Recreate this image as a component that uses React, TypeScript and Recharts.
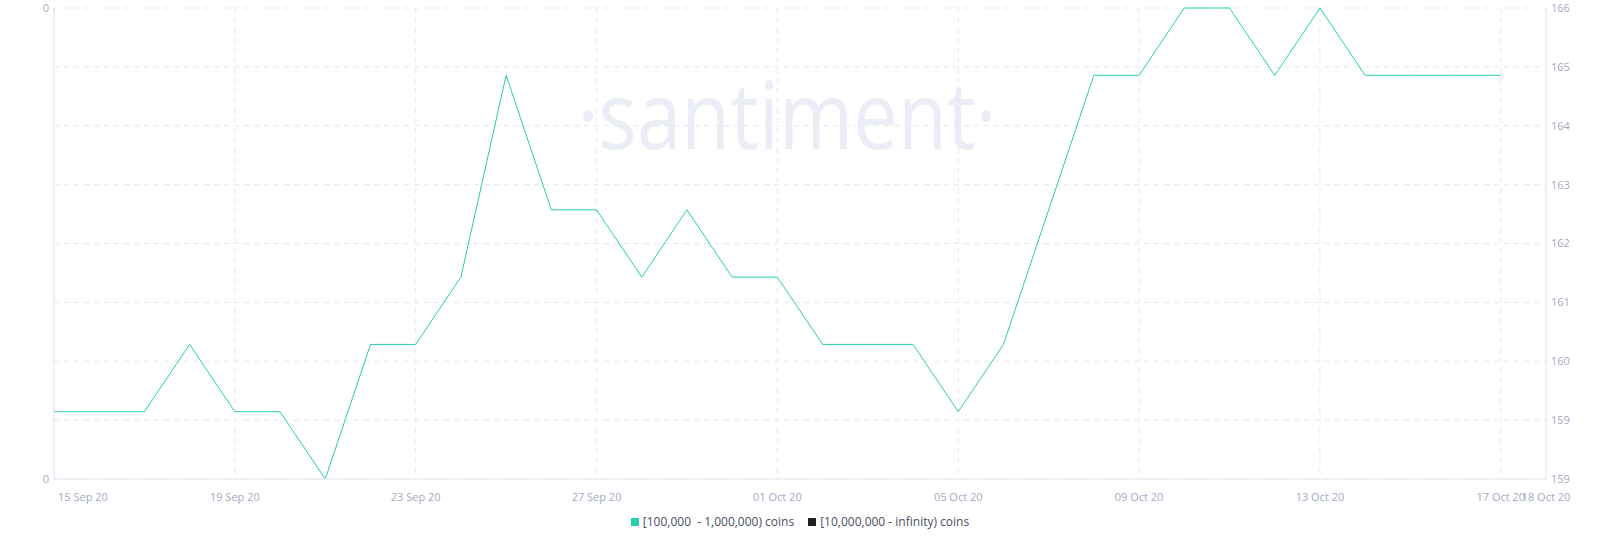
import { LineChart, Line, XAxis, YAxis, CartesianGrid, Legend } from 'recharts';

// one point per day, 15 Sep 2020 .. 17 Oct 2020
const dates = [
  '2020-09-15', '2020-09-16', '2020-09-17', '2020-09-18', '2020-09-19', '2020-09-20',
  '2020-09-21', '2020-09-22', '2020-09-23', '2020-09-24', '2020-09-25', '2020-09-26',
  '2020-09-27', '2020-09-28', '2020-09-29', '2020-09-30', '2020-10-01', '2020-10-02',
  '2020-10-03', '2020-10-04', '2020-10-05', '2020-10-06', '2020-10-07', '2020-10-08',
  '2020-10-09', '2020-10-10', '2020-10-11', '2020-10-12', '2020-10-13', '2020-10-14',
  '2020-10-15', '2020-10-16', '2020-10-17',
];

// holders with [100,000 - 1,000,000) coins
const midHolders = [
  160, 160, 160, 161, 160, 160,
  159, 161, 161, 162, 165, 163,
  163, 162, 163, 162, 162, 161,
  161, 161, 160, 161, 163, 165,
  165, 166, 166, 165, 166, 165,
  165, 165, 165,
];

const xTickDates = [
  '2020-09-15', '2020-09-19', '2020-09-23', '2020-09-27', '2020-10-01',
  '2020-10-05', '2020-10-09', '2020-10-13', '2020-10-17', '2020-10-18',
];

// right axis ticks, labels are floored
const rightTicks = [159, 159.875, 160.75, 161.625, 162.5, 163.375, 164.25, 165.125, 166];

const MONTHS = ['Jan', 'Feb', 'Mar', 'Apr', 'May', 'Jun', 'Jul', 'Aug', 'Sep', 'Oct', 'Nov', 'Dec'];
const ts = (d: string) => Date.parse(d + 'T00:00:00Z');
const fmtDate = (t: number) => {
  const d = new Date(t);
  return `${String(d.getUTCDate()).padStart(2, '0')} ${MONTHS[d.getUTCMonth()]} ${String(d.getUTCFullYear()).slice(2)}`;
};

const data = dates.map((d, i) => ({ t: ts(d), mid: midHolders[i] }));
const xTicks = xTickDates.map(ts);

const GREEN = '#26cfae';
const AXIS = '#e5e7f1';
const TICK = '#a2aac4';
const FONT = "'Open Sans', sans-serif";

const XTick = (props: any) => {
  const { x, y, payload, index } = props;
  const first = index === 0;
  return (
    <text
      x={first ? x + 4 : x}
      y={y + 14}
      textAnchor={first ? 'start' : 'middle'}
      fill={TICK}
      fontSize={11}
      fontFamily={FONT}
    >
      {fmtDate(payload.value)}
    </text>
  );
};

const LegendContent = () => (
  <div
    style={{
      height: 33,
      display: 'flex',
      justifyContent: 'center',
      alignItems: 'flex-start',
      paddingTop: 5,
      boxSizing: 'border-box',
      fontFamily: FONT,
      fontSize: 12,
      color: '#4a4f63',
      gap: 14,
    }}
  >
    {[
      { label: '[100,000  - 1,000,000) coins', color: GREEN },
      { label: '[10,000,000 - infinity) coins', color: '#222222' },
    ].map((it) => (
      <div key={it.label} style={{ display: 'flex', alignItems: 'center', lineHeight: '16px' }}>
        <span style={{ width: 8, height: 8, background: it.color, marginRight: 4, display: 'inline-block' }} />
        <span style={{ whiteSpace: 'pre' }}>{it.label}</span>
      </div>
    ))}
  </div>
);

export default function App() {
  return (
    <div style={{ position: 'absolute', left: 0, top: 0, width: 1600, height: 542, background: '#fff' }}>
      <svg width={1600} height={542} style={{ position: 'absolute', left: 0, top: 0 }}>
        <text
          x={787}
          y={149}
          textAnchor="middle"
          fontSize={94}
          fontFamily={FONT}
          fontWeight={400}
          textLength={419}
          lengthAdjust="spacingAndGlyphs"
          fill="#eaedf5"
        >
          ·santiment·
        </text>
      </svg>
      <div style={{ position: 'absolute', left: 0, top: 0 }}>
        <LineChart width={1600} height={542} data={data} margin={{ top: 8, right: 8, left: 8, bottom: 0 }}>
          <CartesianGrid yAxisId="right" stroke={AXIS} strokeDasharray="5 5" />
          <XAxis
            dataKey="t"
            type="number"
            scale="time"
            domain={[ts('2020-09-15'), ts('2020-10-18')]}
            ticks={xTicks}
            interval={0}
            height={30}
            stroke={AXIS}
            tickLine={false}
            tick={<XTick />}
          />
          {/* the empty series' axis: shows 0 at both ends */}
          <YAxis
            yAxisId="left"
            orientation="left"
            width={46}
            type="number"
            domain={[0, 1]}
            allowDataOverflow
            ticks={[0, 1]}
            interval={0}
            tickFormatter={() => '0'}
            stroke={AXIS}
            tickLine={false}
            tickSize={0}
            tickMargin={5}
            tick={{ fill: TICK, fontSize: 11, fontFamily: FONT }}
          />
          <YAxis
            yAxisId="right"
            orientation="right"
            width={46}
            domain={[159, 166]}
            ticks={rightTicks}
            interval={0}
            tickFormatter={(v: number) => String(Math.floor(v))}
            stroke={AXIS}
            tickLine={false}
            tickSize={0}
            tickMargin={5}
            tick={{ fill: TICK, fontSize: 11, fontFamily: FONT }}
          />
          <Line
            yAxisId="right"
            dataKey="mid"
            stroke={GREEN}
            strokeWidth={1}
            dot={false}
            isAnimationActive={false}
          />
          <Line
            yAxisId="left"
            dataKey="big"
            stroke="#222222"
            strokeWidth={1}
            dot={false}
            isAnimationActive={false}
          />
          <Legend verticalAlign="bottom" height={33} content={<LegendContent />} />
        </LineChart>
      </div>
    </div>
  );
}
